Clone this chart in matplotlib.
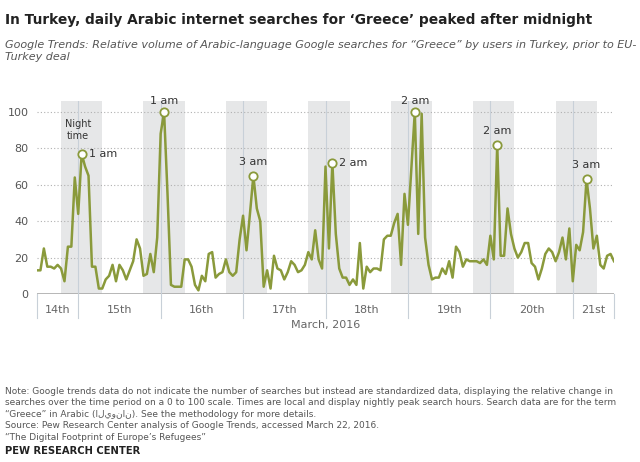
import matplotlib
matplotlib.use("Agg")
import matplotlib.pyplot as plt
import numpy as np

# hourly values starting March 14, 12:00 (noon)
values = [13,13,25,15,15,14,16,14,7,26,26,64,44,77,70,65,15,15,3,3,
          8,10,16,7,16,13,8,13,18,30,25,10,11,22,12,31,88,100,55,5,
          4,4,4,19,19,15,5,2,10,7,22,23,9,11,12,19,12,10,12,30,
          43,24,44,65,47,40,4,13,3,21,14,13,8,12,18,16,12,13,16,23,
          19,35,19,14,70,25,72,33,14,9,9,5,8,5,28,3,15,12,14,14,
          13,30,32,32,39,44,16,55,38,69,100,33,99,31,16,8,9,9,14,11,
          18,9,26,23,15,19,18,18,18,17,19,16,32,19,82,21,21,47,33,25,
          20,23,28,28,17,15,8,14,22,25,23,18,23,31,19,36,7,27,24,34,
          63,47,25,32,16,14,21,22,18]
peak_hours = [13,37,63,86,110,134,160]
peak_labels = ["1 am","1 am","3 am","2 am","2 am","2 am","3 am"]
day_labels = ["14th","15th","16th","17th","18th","19th","20th","21st"]
yticks = [0,20,40,60,80,100]

line_color = "#8a9a3b"
fig = plt.figure(figsize=(6.4,4.62), dpi=100)
ax = fig.add_axes([37/640, 1-294/462, (614-37)/640, (294-101)/462])
x = np.arange(len(values))
ax.set_xlim(0, len(values)-1)
ax.set_ylim(0, 106)
for m in range(12, len(values)+12, 24):
    ax.axvspan(max(m-5,0), min(m+7,len(values)-1), color="#e6e7e8", lw=0, zorder=0)
for yv in yticks[1:]:
    ax.axhline(yv, color="#b0b0b0", ls=(0,(1,2)), lw=0.8, zorder=1)
ax.axhline(0, color="#aaaaaa", lw=1.2, zorder=1)
ax.plot(x, values, color=line_color, lw=1.8, zorder=3)
for h, lab in zip(peak_hours, peak_labels):
    ax.plot(h, values[h], 'o', ms=6, mfc="white", mec=line_color, mew=1.3, zorder=4)
    if h in (37,110):
        ax.text(h, values[h]+3, lab, ha="center", va="bottom", fontsize=8, color="#333333")
    elif h in (13,86):
        ax.text(h+2, values[h], lab, ha="left", va="center", fontsize=8, color="#333333")
    else:
        ax.text(h, values[h]+5, lab, ha="center", va="bottom", fontsize=8, color="#333333")
ax.text(12, 90, "Night\ntime", ha="center", va="center", fontsize=7, color="#333333", linespacing=1.2)
for s in ax.spines.values():
    s.set_visible(False)
ax.set_yticks(yticks)
ax.set_yticklabels([str(v) for v in yticks], fontsize=8, color="#555555")
ax.tick_params(axis="y", length=0, pad=6)
ax.set_xticks([])
seps = list(range(12, len(values), 24))
bounds = [0]+seps+[len(values)-1]
for s in bounds:
    ax.plot([s,s],[0,-13], color="#c8d0d8", lw=0.8, clip_on=False, zorder=1)
for s in seps:
    ax.plot([s,s],[0,106], color="#c8d0d8", lw=0.8, zorder=2)
for i, lab in enumerate(day_labels):
    ax.text((bounds[i]+bounds[i+1])/2, -9, lab, ha="center", va="center", fontsize=8, color="#666666")
ax.text(84, -17, "March, 2016", ha="center", va="center", fontsize=8, color="#666666")

fig.text(0.008, 1-20/462, "In Turkey, daily Arabic internet searches for \u2018Greece\u2019 peaked after midnight",
         fontsize=9.9, fontweight="bold", va="center", color="#222222")
fig.text(0.008, 1-40/462, "Google Trends: Relative volume of Arabic-language Google searches for \u201cGreece\u201d by users in Turkey, prior to EU-\nTurkey deal",
         fontsize=8, style="italic", va="top", color="#555555", linespacing=1.3)
note = ("Note: Google trends data do not indicate the number of searches but instead are standardized data, displaying the relative change in\n"
        "searches over the time period on a 0 to 100 scale. Times are local and display nightly peak search hours. Search data are for the term\n"
        "\u201cGreece\u201d in Arabic (\u0627\u0644\u064a\u0648\u0646\u0627\u0646). See the methodology for more details.\n"
        "Source: Pew Research Center analysis of Google Trends, accessed March 22, 2016.\n"
        "\u201cThe Digital Footprint of Europe\u2019s Refugees\u201d")
fig.text(0.008, 1-387/462, note, fontsize=6.5, va="top", color="#555555", linespacing=1.35)
fig.text(0.008, 1-451/462, "PEW RESEARCH CENTER", fontsize=7.2, fontweight="bold", va="center", color="#222222")
fig.savefig("out.png", dpi=100)
